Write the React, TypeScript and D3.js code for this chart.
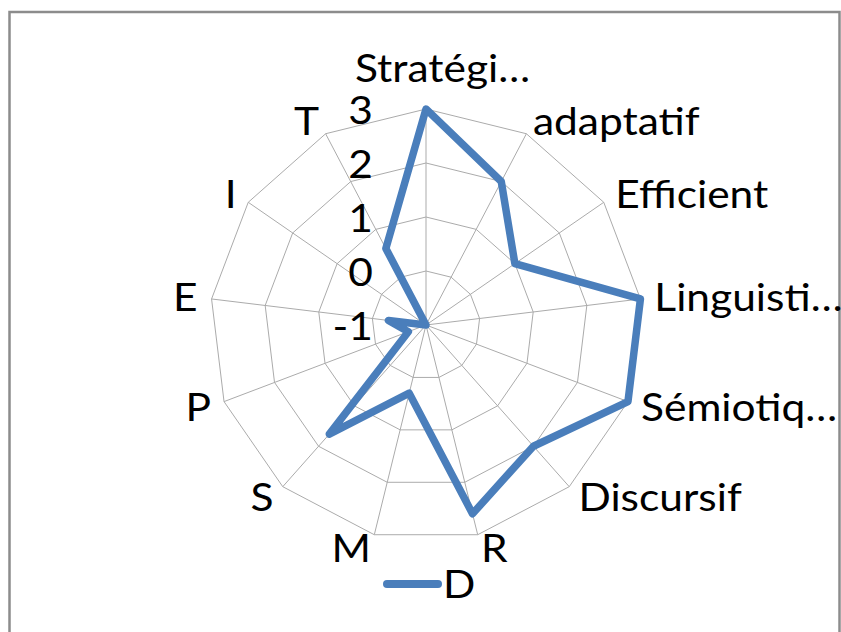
import React from "react";
import { scaleLinear, lineRadial, curveLinearClosed, range } from "d3";

const categories = [
  "Stratégi…",
  "adaptatif",
  "Efficient",
  "Linguisti…",
  "Sémiotiq…",
  "Discursif",
  "R",
  "M",
  "S",
  "P",
  "E",
  "I",
  "T",
];
const seriesName = "D";
const values = [3, 2, 1, 3, 3, 2, 2.6, 0.3, 1.7, -0.65, -0.3, -1, 0.6];
const ticks = [-1, 0, 1, 2, 3];

const W = 841;
const H = 632;
const cx = 426;
const cy = 325;
const R = 216;
const font = "Lato, 'Open Sans', sans-serif";
const fs = 39;
const sx = 1.09; // text in the picture is a bit wider than Lato
const blue = "#4a7ebb";

// text stretched horizontally around its anchor point
const Label = ({ x, y, anchor = "start", children }) => (
  <text transform={`translate(${x},${y}) scale(${sx},1)`} textAnchor={anchor}>
    {children}
  </text>
);

const App = () => {
  const r = scaleLinear().domain([-1, 3]).range([0, R]);
  const n = categories.length;
  const angle = (i) => (i * 2 * Math.PI) / n;
  const pt = (i, rad) => [cx + rad * Math.sin(angle(i)), cy - rad * Math.cos(angle(i))];

  const ring = (v) =>
    range(n)
      .map((i) => pt(i, r(v)))
      .map((p) => p.join(","))
      .join(" ");

  const dataPath = lineRadial()
    .angle((d, i) => angle(i))
    .radius((d) => r(d))
    .curve(curveLinearClosed)(values);

  return (
    <svg
      width={W}
      height={H}
      style={{ position: "absolute", left: 0, top: 0, background: "#fff" }}
    >
      <rect x={9.5} y={12} width={830} height={640} fill="#fff" stroke="#8c8c8c" strokeWidth={2.5} />
      <g>
        {ticks.slice(1).map((t) => (
          <polygon key={t} points={ring(t)} fill="none" stroke="#ababab" strokeWidth={1} />
        ))}
        {range(n).map((i) => {
          const [x, y] = pt(i, R);
          return <line key={i} x1={cx} y1={cy} x2={x} y2={y} stroke="#ababab" strokeWidth={1} />;
        })}
      </g>
      <path
        d={dataPath}
        transform={`translate(${cx},${cy})`}
        fill="none"
        stroke={blue}
        strokeWidth={7.5}
        strokeLinejoin="round"
      />
      <g fontFamily={font} fontSize={fs} fill="#000">
        {categories.map((c, i) => {
          if (i === 0) {
            return (
              <Label key={c} x={cx - 71} y={cy - R - 27}>
                {c}
              </Label>
            );
          }
          const [x, y] = pt(i, R + 14);
          const s = Math.sin(angle(i));
          return (
            <Label key={c} x={x} y={y + 14} anchor={s > 0 ? "start" : "end"}>
              {c}
            </Label>
          );
        })}
        {ticks.map((t) => (
          <Label key={t} x={cx - 53} y={cy - r(t) + 15} anchor="end">
            {t}
          </Label>
        ))}
      </g>
      <g fontFamily={font} fontSize={fs}>
        <line x1={387} y1={584} x2={438} y2={584} stroke={blue} strokeWidth={8} strokeLinecap="round" />
        <Label x={443} y={598}>
          {seriesName}
        </Label>
      </g>
    </svg>
  );
};

export default App;
